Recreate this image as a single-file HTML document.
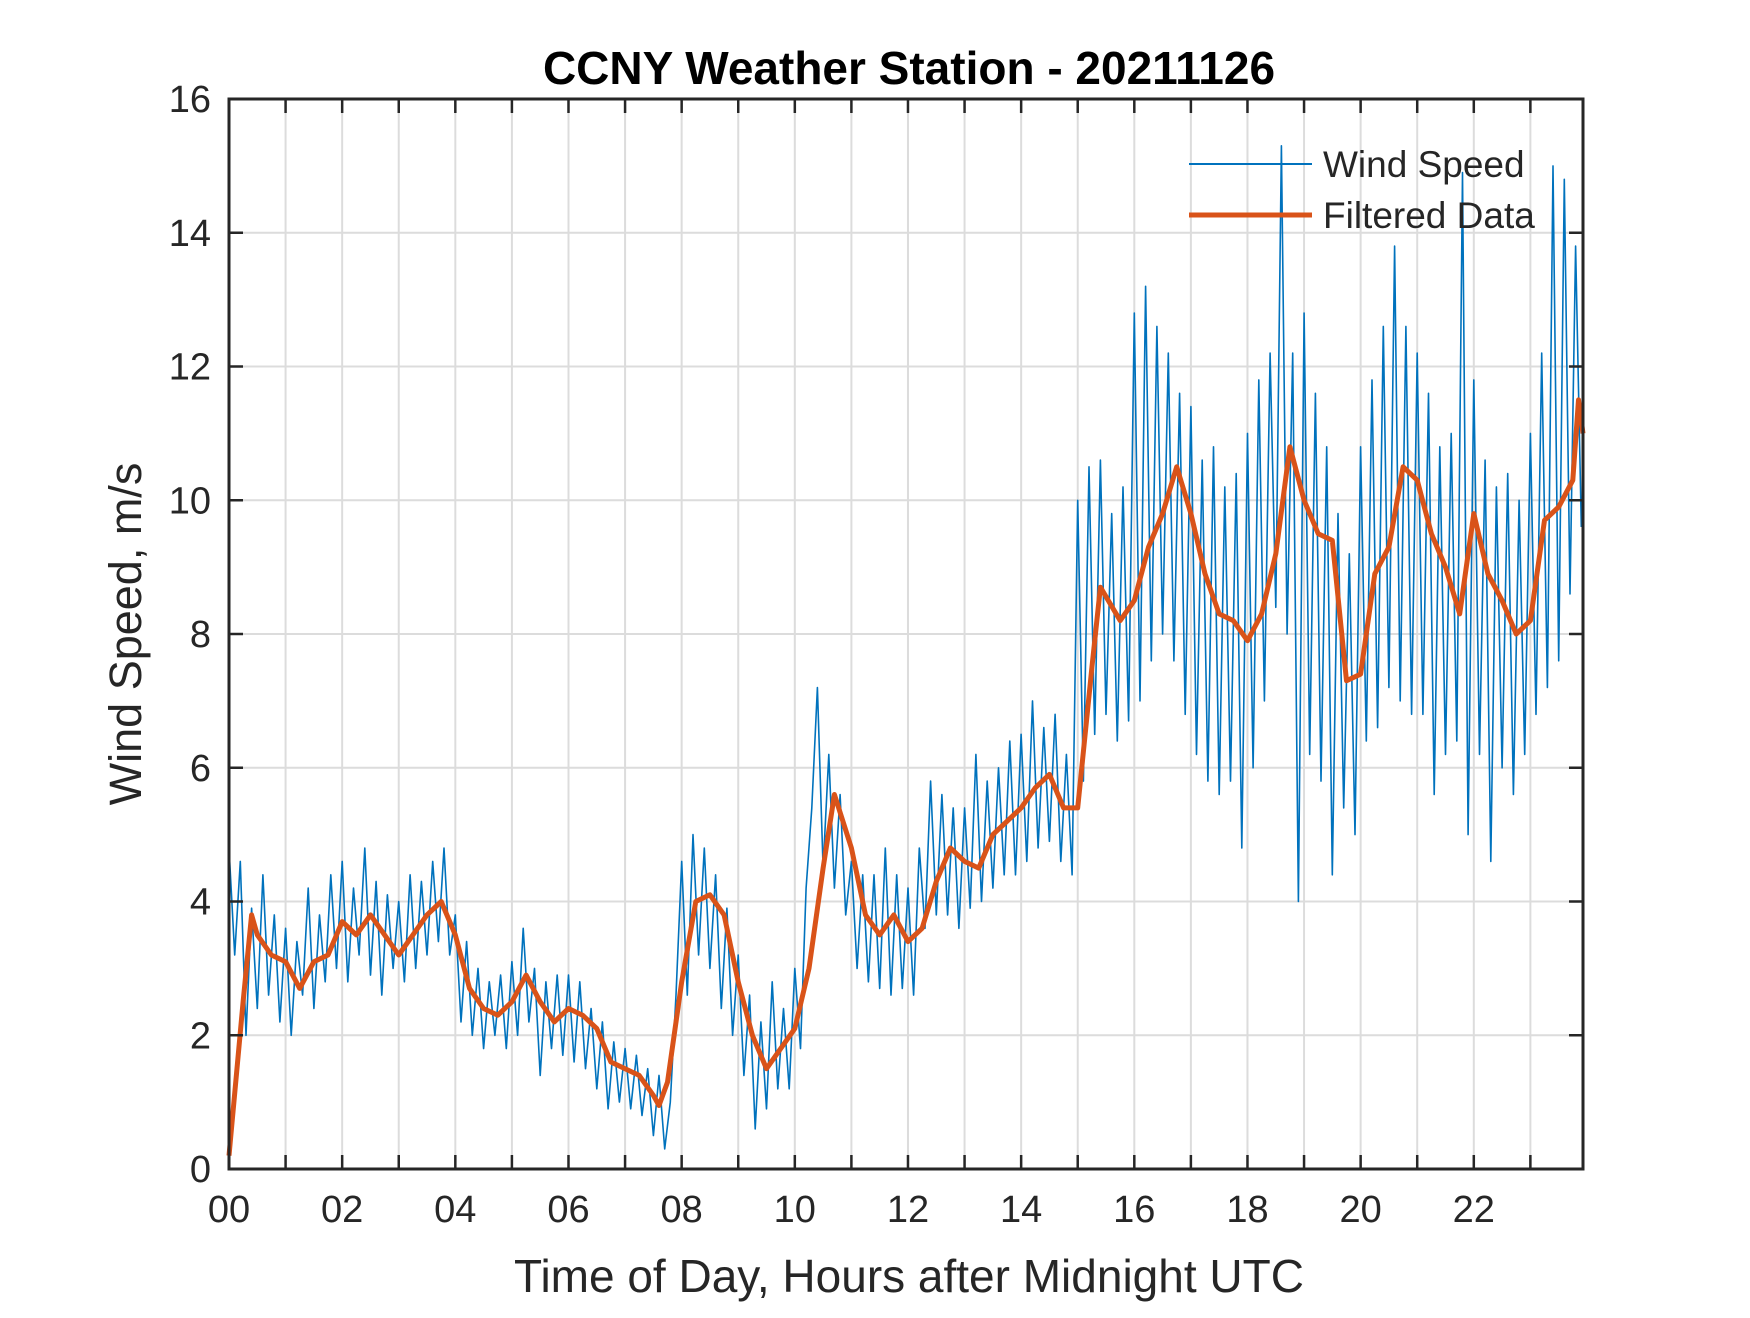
<!DOCTYPE html>
<html><head><meta charset="utf-8"><style>
html,body{margin:0;padding:0;background:#fff;}
svg text{font-family:"Liberation Sans",Arial,sans-serif;fill:#262626;}
</style></head><body>
<svg id="chart" width="1750" height="1313" viewBox="0 0 1750 1313" xmlns="http://www.w3.org/2000/svg">
<rect width="1750" height="1313" fill="#fff"/>
<g id="grid"></g>
<g id="series"></g>
<g id="axes"></g>
<text x="909" y="84" text-anchor="middle" font-size="46" font-weight="bold" style="fill:#000">CCNY Weather Station - 20211126</text>
<text x="909" y="1292" text-anchor="middle" font-size="46">Time of Day, Hours after Midnight UTC</text>
<text transform="translate(141,634) rotate(-90)" text-anchor="middle" font-size="45">Wind Speed, m/s</text>
<g>
<line x1="1189" y1="164" x2="1312" y2="164" stroke="#0072BD" stroke-width="2"/>
<text x="1323" y="177" font-size="37">Wind Speed</text>
<line x1="1189" y1="215" x2="1312" y2="215" stroke="#D95319" stroke-width="5"/>
<text x="1323" y="228" font-size="37">Filtered Data</text>
</g>
</svg>
<script>
const xTicks=[0,2,4,6,8,10,12,14,16,18,20,22];
const xTickLabels=["00","02","04","06","08","10","12","14","16","18","20","22"];
const yTicks=[0,2,4,6,8,10,12,14,16];
const windSpeed=[
4.8,3.2,4.6,2.0,3.9,2.4,4.4,2.6,3.8,2.2,
3.6,2.0,3.4,2.6,4.2,2.4,3.8,2.8,4.4,3.0,
4.6,2.8,4.2,3.2,4.8,2.9,4.3,2.6,4.1,3.0,
4.0,2.8,4.4,3.0,4.3,3.2,4.6,3.4,4.8,3.2,
3.8,2.2,3.4,2.0,3.0,1.8,2.8,2.0,2.9,1.8,
3.1,2.0,3.6,2.2,3.0,1.4,2.8,1.8,2.9,1.7,
2.9,1.6,2.8,1.5,2.4,1.2,2.2,0.9,1.9,1.0,
1.8,0.9,1.7,0.8,1.5,0.5,1.4,0.3,1.0,2.6,
4.6,2.6,5.0,3.2,4.8,3.0,4.4,2.4,3.9,2.0,
3.2,1.4,2.6,0.6,2.2,0.9,2.8,1.2,2.4,1.2,
3.0,1.8,4.2,5.4,7.2,4.5,6.2,4.2,5.6,3.8,
4.6,3.0,4.4,2.8,4.4,2.7,4.8,2.6,4.4,2.7,
4.2,2.6,4.8,3.6,5.8,3.8,5.6,3.8,5.4,3.6,
5.4,3.9,6.2,4.0,5.8,4.2,6.0,4.4,6.4,4.4,
6.5,4.6,7.0,4.8,6.6,4.9,6.8,4.6,6.2,4.4,
10.0,5.8,10.5,6.5,10.6,6.8,9.8,6.4,10.2,6.7,
12.8,7.0,13.2,7.6,12.6,8.0,12.2,7.6,11.6,6.8,
11.4,6.2,10.6,5.8,10.8,5.6,10.2,5.8,10.4,4.8,
11.0,6.0,11.8,7.0,12.2,8.4,15.3,8.0,12.2,4.0,
12.8,6.2,11.6,5.8,10.8,4.4,9.8,5.4,9.2,5.0,
10.8,6.4,11.8,6.6,12.6,7.2,13.8,7.0,12.6,6.8,
12.2,6.8,11.6,5.6,10.8,6.2,11.0,6.4,14.9,5.0,
11.8,6.2,10.6,4.6,10.2,6.0,10.4,5.6,10.0,6.2,
11.0,6.8,12.2,7.2,15.0,7.6,14.8,8.6,13.8,9.6];
const filtHours=[0,0.25,0.4,0.5,0.75,1,1.25,1.5,1.75,2,2.25,2.5,2.75,3,3.25,3.5,3.75,4,4.25,4.5,4.75,5,5.25,5.5,5.75,6,6.25,6.5,6.75,7,7.25,7.5,7.6,7.75,8,8.25,8.5,8.75,9,9.25,9.5,9.75,10,10.25,10.5,10.7,11,11.25,11.5,11.75,12,12.25,12.5,12.75,13,13.25,13.5,13.75,14,14.25,14.5,14.75,15,15.25,15.4,15.75,16,16.25,16.5,16.75,17,17.25,17.5,17.75,18,18.25,18.5,18.75,19,19.25,19.5,19.75,20,20.25,20.5,20.75,21,21.25,21.5,21.75,22,22.25,22.5,22.75,23,23.25,23.5,23.75,23.85,23.93];
const filtValues=[0.2,2.5,3.8,3.5,3.2,3.1,2.7,3.1,3.2,3.7,3.5,3.8,3.5,3.2,3.5,3.8,4.0,3.5,2.7,2.4,2.3,2.5,2.9,2.5,2.2,2.4,2.3,2.1,1.6,1.5,1.4,1.1,0.95,1.3,2.8,4.0,4.1,3.8,2.8,2.0,1.5,1.8,2.1,3.0,4.5,5.6,4.8,3.8,3.5,3.8,3.4,3.6,4.3,4.8,4.6,4.5,5.0,5.2,5.4,5.7,5.9,5.4,5.4,7.5,8.7,8.2,8.5,9.3,9.8,10.5,9.8,8.9,8.3,8.2,7.9,8.3,9.2,10.8,10.0,9.5,9.4,7.3,7.4,8.9,9.3,10.5,10.3,9.5,9.0,8.3,9.8,8.9,8.5,8.0,8.2,9.7,9.9,10.3,11.5,11.0];

const L=229,R=1583,T=99,B=1169,XMAX=23.93,YMAX=16;
const sx=h=>L+(R-L)*h/XMAX;
const sy=v=>B-(B-T)*v/YMAX;
const NS='http://www.w3.org/2000/svg';
const grid=document.getElementById('grid'),axes=document.getElementById('axes'),series=document.getElementById('series');
function mk(tag,attrs,parent){const e=document.createElementNS(NS,tag);for(const k in attrs)e.setAttribute(k,attrs[k]);parent.appendChild(e);return e;}
for(let h=1;h<24;h++){
  const g=mk('line',{x1:sx(h),x2:sx(h),y1:T,y2:B,stroke:'#dcdcdc','stroke-width':2},grid);
  
  
  const t1=mk('line',{x1:sx(h),x2:sx(h),y1:B,y2:B-14,stroke:'#262626','stroke-width':2.5},axes);
  
  
  const t2=mk('line',{x1:sx(h),x2:sx(h),y1:T,y2:T+14,stroke:'#262626','stroke-width':2.5},axes);
  
  
}
yTicks.forEach(v=>{
  if(v>0&&v<YMAX){
    const g=mk('line',{x1:L,x2:R,y1:sy(v),y2:sy(v),stroke:'#dcdcdc','stroke-width':2},grid);
    
    
    const t1=mk('line',{x1:L,x2:L+14,y1:sy(v),y2:sy(v),stroke:'#262626','stroke-width':2.5},axes);
    
    
    const t2=mk('line',{x1:R,x2:R-14,y1:sy(v),y2:sy(v),stroke:'#262626','stroke-width':2.5},axes);
    
    
  }
  const lb=mk('text',{x:L-18,y:sy(v)+13,'text-anchor':'end','font-size':38},axes);
  lb.textContent=String(v);
  
  
});
xTicks.forEach((h,i)=>{
  const lb=mk('text',{x:sx(h),y:B+53,'text-anchor':'middle','font-size':38},axes);
  lb.textContent=xTickLabels[i];
  
  
});
const fr=mk('rect',{x:L,y:T,width:R-L,height:B-T,fill:'none',stroke:'#262626','stroke-width':3},axes);


const wp=windSpeed.map((v,i)=>sx(i*0.1).toFixed(1)+','+sy(v).toFixed(1)).join(' ');
const w=mk('polyline',{points:wp,fill:'none',stroke:'#0072BD','stroke-width':1.6,'stroke-linejoin':'round'},series);


const fp=filtValues.map((v,i)=>sx(filtHours[i]).toFixed(1)+','+sy(v).toFixed(1)).join(' ');
const f=mk('polyline',{points:fp,fill:'none',stroke:'#D95319','stroke-width':5,'stroke-linejoin':'round'},series);


</script>
</body></html>
